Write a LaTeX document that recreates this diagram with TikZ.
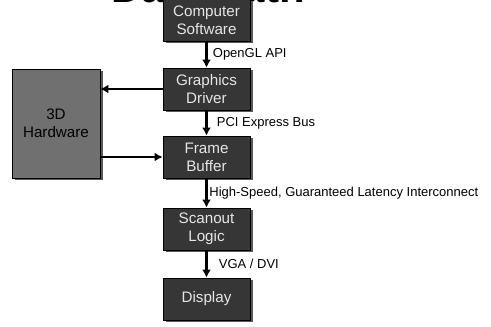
\documentclass[tikz,border=0pt]{standalone}
\usepackage{fontspec}
\setmainfont{Liberation Sans}
\usetikzlibrary{arrows.meta,shadows}
\definecolor{boxfill}{HTML}{363636}
\definecolor{boxtext}{HTML}{E6E6E6}
\definecolor{hwfill}{HTML}{707070}
\tikzset{
  darkbox/.style={draw=black, line width=0.8pt, fill=boxfill, text=boxtext,
    minimum width=87pt, minimum height=42pt, inner sep=0pt, align=center,
    font=\fontsize{15.2}{18}\selectfont,
    drop shadow={shadow xshift=2.5pt, shadow yshift=-2.5pt, fill=black!65, opacity=1}},
  hwbox/.style={darkbox, fill=hwfill, text=black, minimum width=88pt, minimum height=109pt},
  flow/.style={line width=2.8pt, -{Latex[length=8pt,width=9pt]}},
  elabel/.style={font=\fontsize{13}{15}\selectfont, anchor=west, inner sep=0pt}
}
\begin{document}
\begin{tikzpicture}[x=1pt,y=1pt]
\useasboundingbox (0,0) rectangle (491,327);
\clip (0,0) rectangle (491,327);
\fill[white] (0,0) rectangle (491,327);
\node[anchor=base west, inner sep=0pt, font=\fontsize{42}{44}\selectfont\bfseries] (title) at (111,324) {Data Path};
\node[darkbox] (cs) at (206.5,307) {Computer\\Software};
\node[darkbox] (gd) at (206.5,238) {Graphics\\Driver};
\node[darkbox] (fb) at (206.5,170) {Frame\\Buffer};
\node[darkbox] (sl) at (206.5,98) {Scanout\\Logic};
\node[darkbox] (dp) at (206.5,28) {Display};
\node[hwbox] (hw) at (56,203.5) {3D\\Hardware};
\draw[flow] (cs) -- node[elabel, xshift=5pt] (l1) {OpenGL API} (gd);
\draw[flow] (gd) -- node[elabel, xshift=9pt] (l2) {PCI Express Bus} (fb);
\draw[flow] (fb) -- node[elabel, xshift=1.5pt] (l3) {High-Speed, Guaranteed Latency Interconnect} (sl);
\draw[flow] (sl) -- node[elabel, xshift=11pt] (l4) {VGA / DVI} (dp);
\draw[flow] (gd.west) -- (gd.west -| hw.east);
\draw[flow] (fb.west -| hw.east) -- (fb.west);
\end{tikzpicture}
\end{document}
